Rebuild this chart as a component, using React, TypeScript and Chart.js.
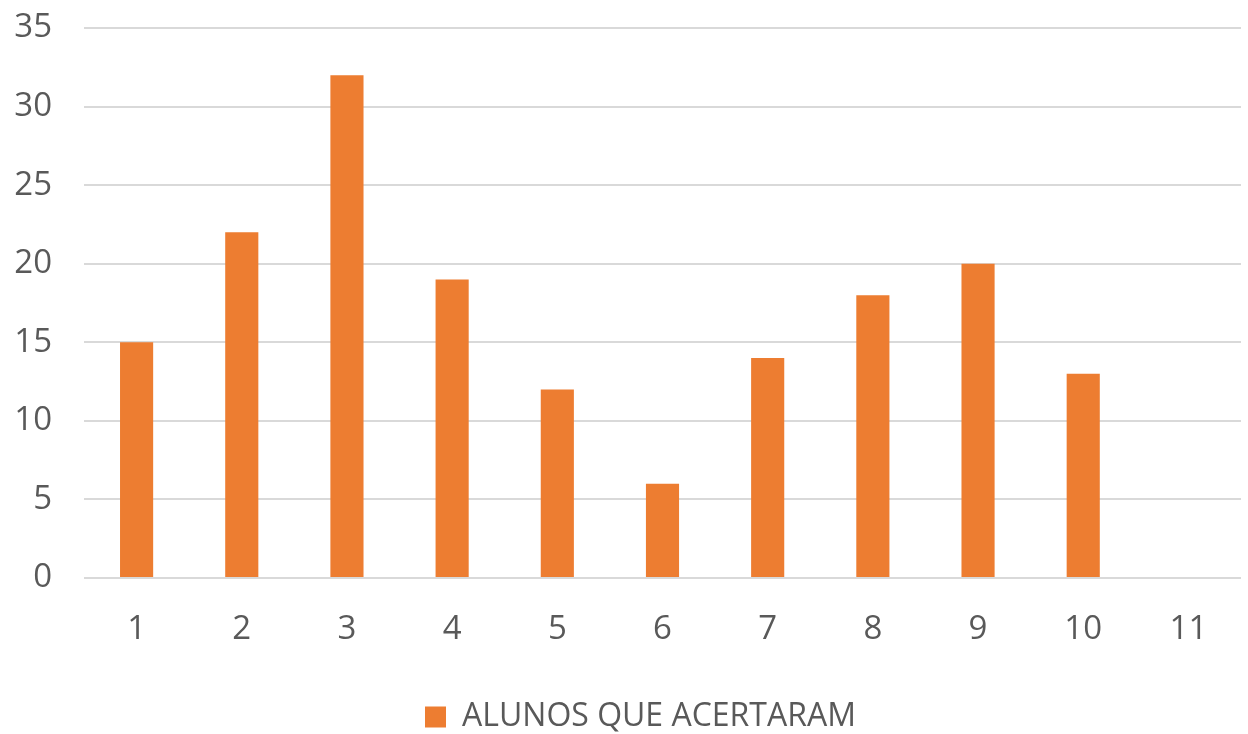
import React, { useEffect, useRef } from "react";
import { Chart, registerables } from "chart.js";

Chart.register(...registerables);

const categories = ["1", "2", "3", "4", "5", "6", "7", "8", "9", "10", "11"];
const seriesLabel = "ALUNOS QUE ACERTARAM";
const values: (number | null)[] = [15, 22, 32, 19, 12, 6, 14, 18, 20, 13, null];
const yTicks = [0, 5, 10, 15, 20, 25, 30, 35];

const FONT = "'Open Sans', 'Liberation Sans', sans-serif";

const legendShift = {
  id: "legendShift",
  afterLayout(chart: any) {
    const lg = chart.legend;
    if (lg) {
      lg.left += 20;
      lg.right += 20;
      lg.top += 9;
      lg.bottom += 9;
    }
  },
};

export default function App() {
  const ref = useRef<HTMLCanvasElement | null>(null);
  useEffect(() => {
    document.body.style.margin = "0";
    const ctx = ref.current!;
    const chart = new Chart(ctx, {
      type: "bar",
      data: {
        labels: categories,
        datasets: [
          {
            label: seriesLabel,
            data: values,
            backgroundColor: "#ED7D31",
            borderWidth: 0,
            categoryPercentage: 1,
            barPercentage: 0.315,
          },
        ],
      },
      plugins: [legendShift],
      options: {
        animation: false,
        responsive: false,
        maintainAspectRatio: false,
        layout: { padding: { top: 28, right: 7, left: 0, bottom: 0 } },
        plugins: {
          tooltip: { enabled: false },
          legend: {
            position: "bottom",
            labels: {
              boxWidth: 21,
              boxHeight: 21,
              color: "#595959",
              font: { family: FONT, size: 32, lineHeight: 1 },
              padding: 0,
            },
          },
        },
        scales: {
          x: {
            grid: { display: false },
            border: { display: false },
            ticks: {
              color: "#595959",
              font: { family: FONT, size: 33 },
              padding: 24,
            },
            afterFit: (s: any) => {
              s.height = 114;
              s.paddingLeft = 0;
              s.paddingRight = 0;
            },
          },
          y: {
            min: 0,
            max: 35,
            afterBuildTicks: (s: any) => {
              s.ticks = yTicks.map((v) => ({ value: v }));
            },
            grid: { color: "#D9D9D9", lineWidth: 2, drawTicks: false },
            border: { display: false },
            ticks: {
              color: "#595959",
              font: { family: FONT, size: 33 },
              padding: 32,
            },
            afterFit: (s: any) => {
              s.width = 84;
              s.paddingTop = 0;
              s.paddingBottom = 0;
            },
          },
        },
      },
    });
    return () => chart.destroy();
  }, []);
  return <canvas ref={ref} width={1248} height={734} style={{ display: "block" }} />;
}
